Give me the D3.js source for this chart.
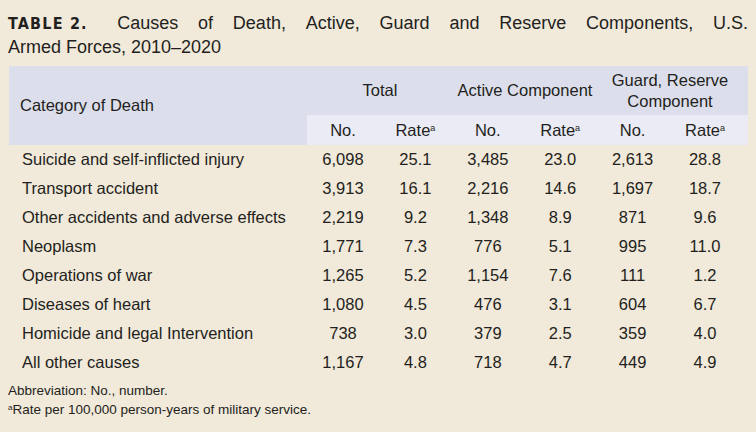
<!DOCTYPE html>
<html><head><meta charset="utf-8">
<script src="https://cdn.jsdelivr.net/npm/d3@7"></script>
<style>body{margin:0;background:#f1e9da}</style></head>
<body><svg id="c" width="756" height="432"></svg>
<script>
const categories=["Suicide and self-inflicted injury","Transport accident","Other accidents and adverse effects","Neoplasm","Operations of war","Diseases of heart","Homicide and legal Intervention","All other causes"];
const totalNo=["6,098","3,913","2,219","1,771","1,265","1,080","738","1,167"];
const totalRate=["25.1","16.1","9.2","7.3","5.2","4.5","3.0","4.8"];
const activeNo=["3,485","2,216","1,348","776","1,154","476","379","718"];
const activeRate=["23.0","14.6","8.9","5.1","7.6","3.1","2.5","4.7"];
const guardNo=["2,613","1,697","871","995","111","604","359","449"];
const guardRate=["28.8","18.7","9.6","11.0","1.2","6.7","4.0","4.9"];
const cols=[totalNo,totalRate,activeNo,activeRate,guardNo,guardRate];
const colHeads=["No.","Rate","No.","Rate","No.","Rate"];
const titleWords=["Causes","of","Death,","Active,","Guard","and","Reserve","Components,","U.S."];

const svg=d3.select("#c");
const F="'Liberation Sans',Arial,sans-serif", C="#231f20";
svg.append("rect").attr("width",756).attr("height",432).attr("fill","#f1e9da");
// title, justified
const tg=svg.append("g").attr("font-family",F).attr("font-size",18).attr("fill",C);
const lab=tg.append("text").attr("x",8).attr("y",29).attr("font-family","'DejaVu Sans Condensed',sans-serif")
 .attr("font-weight","bold").attr("letter-spacing",1.2).attr("font-size",16).text("TABLE 2.");
const labW=lab.node().getComputedTextLength()+1.2*8;
const ws=titleWords.map(w=>tg.append("text").attr("y",29).text(w));
const widths=ws.map(t=>t.node().getComputedTextLength());
const gap=(748-8-labW-d3.sum(widths))/titleWords.length;
let cx=8+labW+gap;
ws.forEach((t,i)=>{t.attr("x",cx);cx+=widths[i]+gap;});
ws[ws.length-1].attr("x",null).attr("text-anchor","end").attr("x",748);
tg.append("text").attr("x",8).attr("y",53).text("Armed Forces, 2010–2020");
// header bands
svg.append("rect").attr("x",9).attr("y",66).attr("width",739).attr("height",79).attr("fill","#dcdeec");
svg.append("rect").attr("x",307).attr("y",115).attr("width",441).attr("height",30).attr("fill","#ebebf5");
const x=d3.scalePoint().domain(d3.range(6)).range([343,705]);
const y=d3.scaleBand().domain(d3.range(categories.length)).range([145,377]);
const g=svg.append("g").attr("font-family",F).attr("font-size",16.5).attr("fill",C);
g.append("text").attr("x",20).attr("y",111).text("Category of Death");
[["Total",380,96],["Active Component",525,96],["Guard, Reserve",670,86],["Component",670,107]].forEach(d=>
 g.append("text").attr("x",d[1]).attr("y",d[2]).attr("text-anchor","middle").text(d[0]));
colHeads.forEach((h,i)=>{const t=g.append("text").attr("x",x(i)).attr("y",136).attr("text-anchor","middle").text(h);
 if(h==="Rate"){t.append("tspan").attr("font-size",9).attr("dy",-5).text("a");}});
categories.forEach((c,r)=>{
 const yy=y(r)+y.bandwidth()/2+5;
 g.append("text").attr("x",22).attr("y",yy).text(c);
 cols.forEach((col,i)=>g.append("text").attr("x",x(i)).attr("y",yy).attr("text-anchor","middle").text(col[r]));
});
const f=svg.append("g").attr("font-family",F).attr("font-size",13.5).attr("fill",C);
f.append("text").attr("x",8).attr("y",395).text("Abbreviation: No., number.");
const ft=f.append("text").attr("x",8).attr("y",414);
ft.append("tspan").attr("font-size",8).attr("dy",-4).text("a");
ft.append("tspan").attr("dy",4).text("Rate per 100,000 person-years of military service.");
</script></body></html>
